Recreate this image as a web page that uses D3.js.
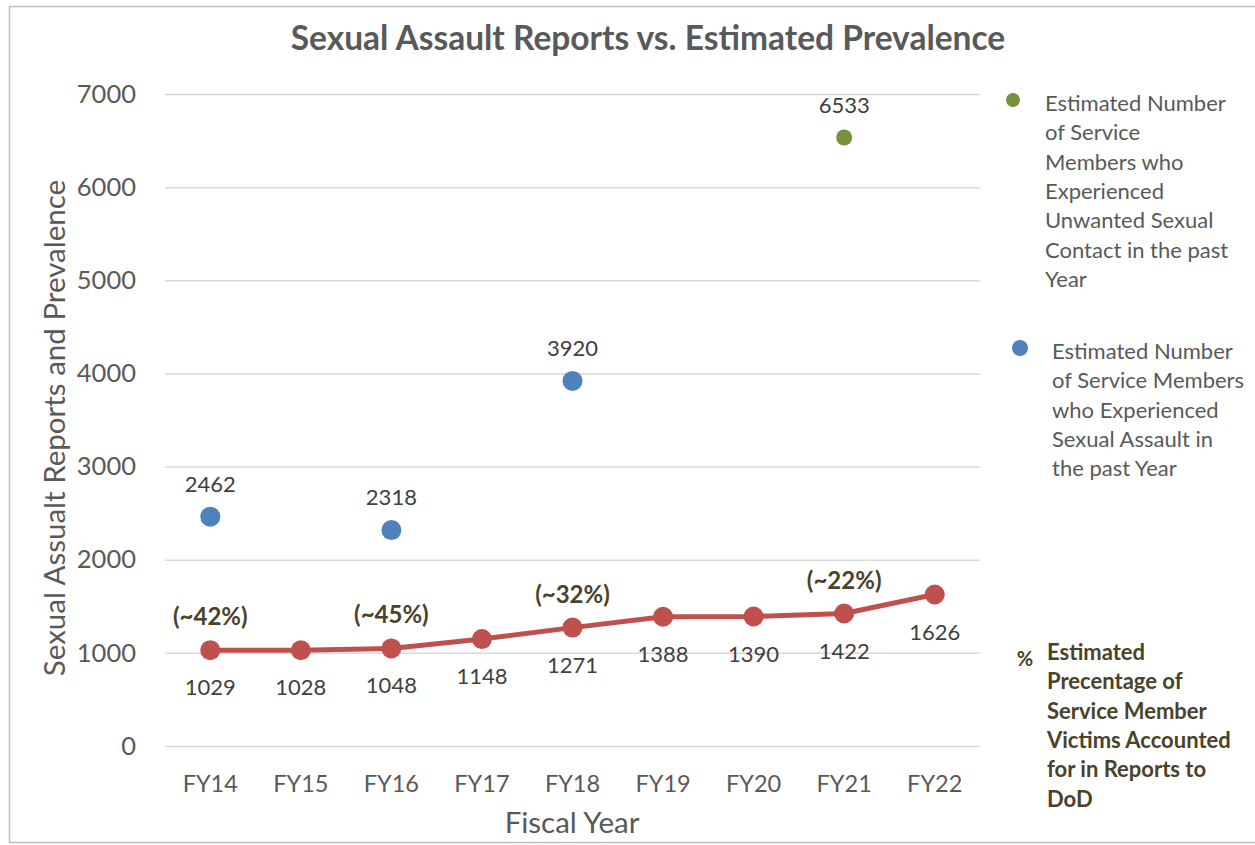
<!DOCTYPE html>
<html>
<head>
<meta charset="utf-8">
<script src="https://cdn.jsdelivr.net/npm/d3@7"></script>
<style>
  body { margin: 0; background: #fff; }
  svg { font-family: Lato, "Open Sans", sans-serif; }
</style>
</head>
<body>
<div id="chart"></div>
<script>
// chart data
const years = ["FY14", "FY15", "FY16", "FY17", "FY18", "FY19", "FY20", "FY21", "FY22"];
const reports = [1029, 1028, 1048, 1148, 1271, 1388, 1390, 1422, 1626];
const assaultYears = ["FY14", "FY16", "FY18"];
const assaultEstimates = [2462, 2318, 3920];
const contactYears = ["FY21"];
const contactEstimates = [6533];
const pctYears = ["FY14", "FY16", "FY18", "FY21"];
const pctLabels = ["(~42%)", "(~45%)", "(~32%)", "(~22%)"];
const yTicks = [0, 1000, 2000, 3000, 4000, 5000, 6000, 7000];

const W = 1255, H = 845;
const margin = { top: 94, right: 275, bottom: 99, left: 165 };
const width = W - margin.left - margin.right,
      height = H - margin.top - margin.bottom;

const svg = d3.select("#chart").append("svg")
  .attr("width", W).attr("height", H);

// outer frame
svg.append("rect")
  .attr("x", 9.5).attr("y", 6.5)
  .attr("width", 1260).attr("height", 836)
  .attr("fill", "none").attr("stroke", "#bfbfbf").attr("stroke-width", 1.5);

svg.append("text")
  .attr("x", 648).attr("y", 50)
  .attr("text-anchor", "middle")
  .attr("font-size", 33.5).attr("font-weight", "bold")
  .attr("fill", "#595959")
  .text("Sexual Assault Reports vs. Estimated Prevalence");

const g = svg.append("g").attr("transform", `translate(${margin.left},${margin.top})`);

const x = d3.scaleBand().domain(years).range([0, width]);
const y = d3.scaleLinear().domain([0, 7000]).range([height, 0]);
const cx = d => x(d) + x.bandwidth() / 2;

// gridlines + y axis
const yAxis = g.append("g")
  .call(d3.axisLeft(y).tickValues(yTicks).tickSize(-width).tickPadding(29).tickFormat(d3.format("d")));
yAxis.select(".domain").remove();
yAxis.selectAll(".tick line").attr("stroke", "#d9d9d9").attr("stroke-width", 1.5);
yAxis.selectAll(".tick text").attr("font-size", 25.5).attr("fill", "#595959")
  .attr("font-family", "Lato, 'Open Sans', sans-serif");

// x axis
const xAxis = g.append("g")
  .attr("transform", `translate(0,${height})`)
  .call(d3.axisBottom(x).tickSize(0).tickPadding(29));
xAxis.select(".domain").remove();
xAxis.selectAll(".tick text").attr("font-size", 23.5).attr("fill", "#595959")
  .attr("font-family", "Lato, 'Open Sans', sans-serif");

// axis titles
svg.append("text")
  .attr("x", 572).attr("y", 833)
  .attr("text-anchor", "middle")
  .attr("font-size", 29.5).attr("fill", "#595959")
  .text("Fiscal Year");

svg.append("text")
  .attr("transform", "translate(65,428) rotate(-90)")
  .attr("text-anchor", "middle")
  .attr("font-size", 29.5).attr("fill", "#595959")
  .text("Sexual Assualt Reports and Prevalence");

// reports line
const line = d3.line()
  .x((d, i) => cx(years[i]))
  .y(d => y(d));

g.append("path")
  .datum(reports)
  .attr("fill", "none")
  .attr("stroke", "#c0504d")
  .attr("stroke-width", 5)
  .attr("d", line);

g.selectAll(".rep")
  .data(reports)
  .enter().append("circle")
  .attr("cx", (d, i) => cx(years[i]))
  .attr("cy", d => y(d))
  .attr("r", 10)
  .attr("fill", "#c0504d");

g.selectAll(".repLabel")
  .data(reports)
  .enter().append("text")
  .attr("x", (d, i) => cx(years[i]))
  .attr("y", d => y(d) + 45)
  .attr("text-anchor", "middle")
  .attr("font-size", 22).attr("fill", "#404040")
  .text(d => d);

// sexual assault estimates
g.selectAll(".sa")
  .data(assaultEstimates)
  .enter().append("circle")
  .attr("cx", (d, i) => cx(assaultYears[i]))
  .attr("cy", d => y(d))
  .attr("r", 10)
  .attr("fill", "#4f81bd");

g.selectAll(".saLabel")
  .data(assaultEstimates)
  .enter().append("text")
  .attr("x", (d, i) => cx(assaultYears[i]))
  .attr("y", d => y(d) - 25)
  .attr("text-anchor", "middle")
  .attr("font-size", 22).attr("fill", "#404040")
  .text(d => d);

// unwanted contact estimates
g.selectAll(".usc")
  .data(contactEstimates)
  .enter().append("circle")
  .attr("cx", (d, i) => cx(contactYears[i]))
  .attr("cy", d => y(d))
  .attr("r", 8)
  .attr("fill", "#77933c");

g.selectAll(".uscLabel")
  .data(contactEstimates)
  .enter().append("text")
  .attr("x", (d, i) => cx(contactYears[i]))
  .attr("y", d => y(d) - 25)
  .attr("text-anchor", "middle")
  .attr("font-size", 22).attr("fill", "#404040")
  .text(d => d);

// percentage annotations
g.selectAll(".pct")
  .data(pctLabels)
  .enter().append("text")
  .attr("x", (d, i) => cx(pctYears[i]))
  .attr("y", (d, i) => y(reports[years.indexOf(pctYears[i])]) - 25)
  .attr("text-anchor", "middle")
  .attr("font-size", 24).attr("font-weight", "bold").attr("fill", "#4a4229")
  .text(d => d);

// legend
const legend = [
  { x: 1013, y: 100, r: 7, color: "#77933c", tx: 1045,
    lines: ["Estimated Number", "of Service", "Members who", "Experienced", "Unwanted Sexual", "Contact in the past", "Year"] },
  { x: 1020, y: 348, r: 8, color: "#4f81bd", tx: 1052,
    lines: ["Estimated Number", "of Service Members", "who Experienced", "Sexual Assault in", "the past Year"] }
];
legend.forEach(l => {
  svg.append("circle").attr("cx", l.x).attr("cy", l.y).attr("r", l.r).attr("fill", l.color);
  const t = svg.append("text").attr("x", l.tx).attr("y", l.y + 11)
    .attr("font-size", 22).attr("fill", "#595959");
  l.lines.forEach((s, i) => t.append("tspan").attr("x", l.tx).attr("dy", i ? 29.3 : 0).text(s));
});

svg.append("text")
  .attr("x", 1025).attr("y", 666)
  .attr("text-anchor", "middle")
  .attr("font-size", 20).attr("font-weight", "bold").attr("fill", "#4a4229")
  .text("%");
const pctLegend = ["Estimated", "Precentage of", "Service Member", "Victims Accounted", "for in Reports to", "DoD"];
const pt = svg.append("text").attr("x", 1047).attr("y", 660)
  .attr("font-size", 22).attr("font-weight", "bold").attr("fill", "#4a4229");
pctLegend.forEach((s, i) => pt.append("tspan").attr("x", 1047).attr("dy", i ? 29.3 : 0).text(s));
</script>
</body>
</html>
